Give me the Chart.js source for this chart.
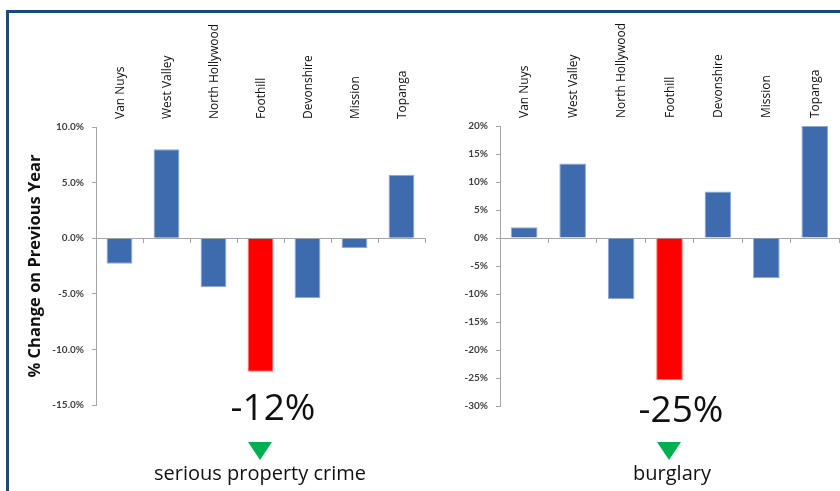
<!DOCTYPE html>
<html>
<head>
<meta charset="utf-8">
<script src="https://cdn.jsdelivr.net/npm/chart.js@4.4.1/dist/chart.umd.min.js"></script>
<style>
  html, body { margin: 0; padding: 0; background: #fff; }
  #wrap { position: relative; width: 840px; height: 491px; overflow: hidden; background: #fff; }
  #frame { position: absolute; left: 6px; top: 10px; width: 900px; height: 600px;
           border-top: 3px solid #1b4a78; border-left: 3px solid #1b4a78; box-sizing: border-box; }
  canvas { position: absolute; top: 0; }
  #c1 { left: 0; }
  #c2 { left: 430px; }
  .big { position: absolute; font-family: "Open Sans", sans-serif; font-size: 37px; line-height: 37px;
         color: #111; white-space: nowrap; transform: translateX(-50%); }
  .sub { position: absolute; font-family: "Open Sans", sans-serif; font-size: 20px; line-height: 20px;
         color: #111; white-space: nowrap; transform: translateX(-50%); }
  .tri { position: absolute; width: 0; height: 0; border-left: 12px solid transparent;
         border-right: 12px solid transparent; border-top: 18px solid #00b050; }
</style>
</head>
<body>
<div id="wrap">
  <div id="frame"></div>
  <canvas id="c1" width="430" height="491"></canvas>
  <canvas id="c2" width="410" height="491"></canvas>
  <div class="big" style="left:273px; top:387px;">-12%</div>
  <div class="tri" style="left:248px; top:442px;"></div>
  <div class="sub" style="left:260px; top:463px;">serious property crime</div>
  <div class="big" style="left:681px; top:389px;">-25%</div>
  <div class="tri" style="left:657px; top:442px;"></div>
  <div class="sub" style="left:672px; top:463px;">burglary</div>
</div>
<script>
// ---- data ----
const divisions = ["Van Nuys", "West Valley", "North Hollywood", "Foothill", "Devonshire", "Mission", "Topanga"];
const seriousPropertyCrimeChange = [-2.3, 8.0, -4.4, -12.0, -5.4, -0.9, 5.7];
const burglaryChange = [1.9, 13.3, -10.9, -25.4, 8.3, -7.2, 20.0];
const highlightDivision = "Foothill";
const leftTicks = { min: -15, max: 10, step: 5 };
const rightTicks = { min: -30, max: 20, step: 5 };
const yAxisTitle = "% Change on Previous Year";

const BLUE = "#3e6aae";
const RED = "#ff0000";
const AXIS = "#a6a6a6";
const colors = divisions.map(d => d === highlightDivision ? RED : BLUE);
const edges = divisions.map(d => d === highlightDivision ? "#ff7a7a" : "#8fa9d6");

function makeChart(canvasId, values, ticks, fmt, yWidth, topH, pad, withTitle) {
  return new Chart(document.getElementById(canvasId), {
    type: "bar",
    data: {
      labels: divisions,
      datasets: [{
        data: values,
        backgroundColor: colors,
        borderColor: edges,
        borderWidth: 1,
        categoryPercentage: 0.55,
        barPercentage: 1.0,
        xAxisID: "x",
        yAxisID: "y"
      }]
    },
    options: {
      responsive: false,
      animation: false,
      devicePixelRatio: 1,
      layout: { padding: pad },
      plugins: { legend: { display: false }, tooltip: { enabled: false } },
      scales: {
        x: {
          type: "category",
          position: { y: 0 },
          offset: true,
          ticks: { display: false },
          grid: { offset: true, drawOnChartArea: false, drawTicks: true, tickLength: 4, color: AXIS },
          border: { display: true, color: AXIS, width: 1 }
        },
        xTop: {
          type: "category",
          axis: "x",
          position: "top",
          offset: true,
          grid: { display: false, drawTicks: false },
          border: { display: false },
          ticks: {
            minRotation: 90, maxRotation: 90, autoSkip: false, padding: 8, labelOffset: 15,
            color: "#111", font: { family: "Open Sans", size: 12 }
          },
          afterFit: s => { s.height = topH; }
        },
        y: {
          type: "linear",
          min: ticks.min, max: ticks.max,
          ticks: {
            stepSize: ticks.step, padding: 8, color: "#404040",
            font: { family: "Lato", size: 10, weight: "bold" },
            callback: fmt
          },
          grid: { drawOnChartArea: false, drawTicks: true, tickLength: 4, color: AXIS },
          border: { display: true, color: AXIS, width: 1 },
          title: {
            display: withTitle, text: yAxisTitle, color: "#111",
            font: { family: "Open Sans", size: 16.5, weight: "bold" },
            padding: { top: 25, bottom: 0 }
          },
          afterFit: s => { s.width = yWidth; }
        }
      }
    }
  });
}

makeChart("c1", seriousPropertyCrimeChange, leftTicks, v => v.toFixed(1) + "%", 96, 127,
  { left: 0, right: 5, top: 0, bottom: 86 }, true);
makeChart("c2", burglaryChange, rightTicks, v => v + "%", 70, 126,
  { left: 0, right: 1, top: 0, bottom: 85 }, false);
</script>
</body>
</html>
